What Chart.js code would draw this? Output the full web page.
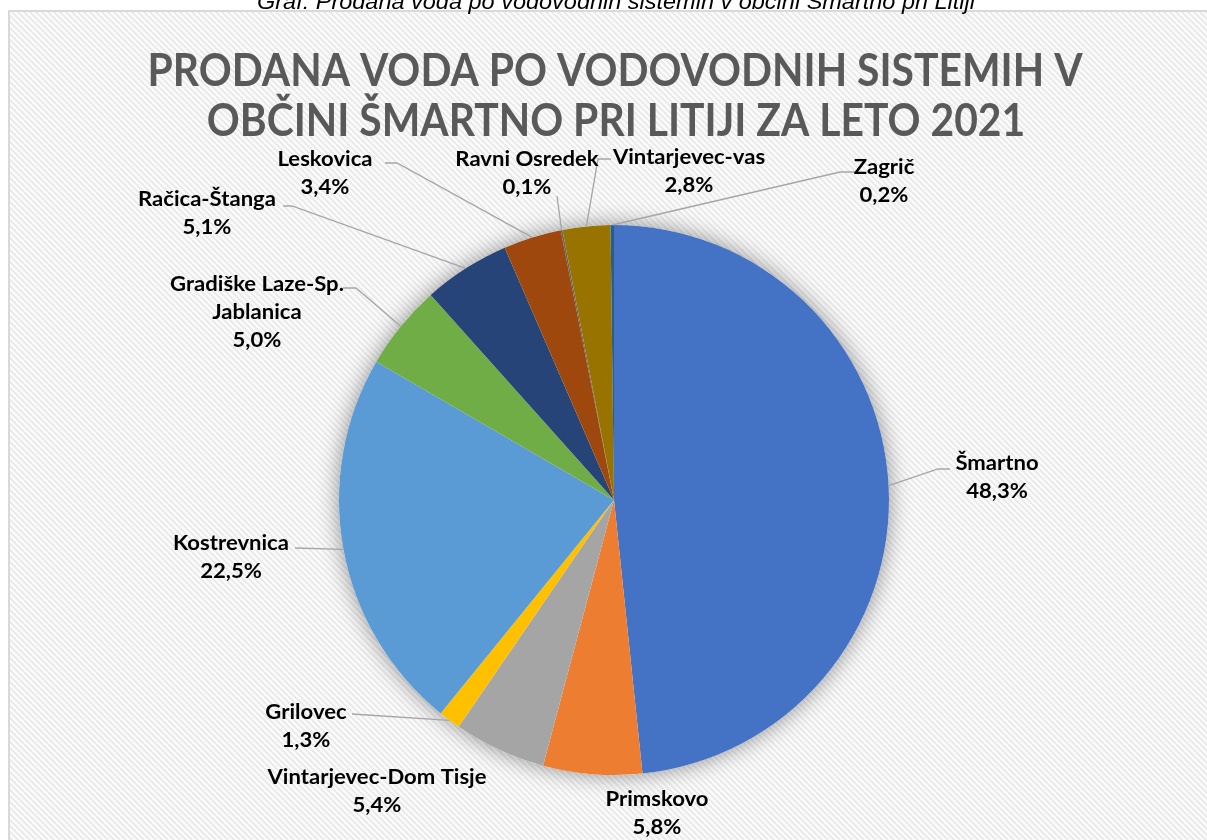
<!DOCTYPE html>
<html>
<head>
<meta charset="utf-8">
<script src="https://cdn.jsdelivr.net/npm/chart.js@4.4.1/dist/chart.umd.min.js"></script>
<style>
  html, body { margin: 0; padding: 0; background: #fff; overflow: hidden; }
  canvas { display: block; }
</style>
</head>
<body>
<canvas id="pieChart" width="1207" height="840" style="width:1207px;height:840px"></canvas>
<script>
const captionText = "Graf: Prodana voda po vodovodnih sistemih v občini Šmartno pri Litiji";
const titleLines = ["PRODANA VODA PO VODOVODNIH SISTEMIH V", "OBČINI ŠMARTNO PRI LITIJI ZA LETO 2021"];

const categories = [
  "Šmartno", "Primskovo", "Vintarjevec-Dom Tisje", "Grilovec", "Kostrevnica",
  "Gradiške Laze-Sp. Jablanica", "Račica-Štanga", "Leskovica", "Ravni Osredek",
  "Vintarjevec-vas", "Zagrič"
];
const shares = [48.3, 5.8, 5.4, 1.3, 22.5, 5.0, 5.1, 3.4, 0.1, 2.8, 0.2];
const sliceColors = [
  "#4472C4", "#ED7D31", "#A5A5A5", "#FFC000", "#5B9BD5",
  "#70AD47", "#264478", "#9E480E", "#636363", "#997300", "#255E91"
];

// where each data label sits, and the bends of its leader line (label side first)
const labelLayout = [
  { x: 997, y: 463, leader: [[950, 469], [938, 469]] },
  { x: 657, y: 799 },
  { x: 377, y: 777 },
  { x: 306, y: 712, leader: [[352, 714]] },
  { x: 231, y: 543, leader: [[295, 548]] },
  { x: 257, y: 284, lines: ["Gradiške Laze-Sp.", "Jablanica"], leader: [[343, 288], [356, 288]] },
  { x: 207, y: 199, leader: [[283, 206], [292, 206]] },
  { x: 325, y: 159, leader: [[385, 163], [397, 163]] },
  { x: 527, y: 159, leader: [[557, 196]] },
  { x: 689, y: 157, leader: [[611, 159], [598, 159]] },
  { x: 884, y: 167, leader: [[855, 172], [840, 172]] }
];

const total = shares.reduce((a, b) => a + b, 0);
const pct = v => (v / total * 100).toFixed(1).replace(".", ",") + "%";

function hatchPattern(ctx) {
  const c = document.createElement("canvas");
  c.width = 6; c.height = 6;
  const g = c.getContext("2d");
  g.fillStyle = "#fcfcfc";
  g.fillRect(0, 0, 6, 6);
  g.strokeStyle = "#eaeaea";
  g.lineWidth = 2;
  g.beginPath();
  g.moveTo(-1, -1); g.lineTo(7, 7);
  g.moveTo(-4, 2); g.lineTo(4, 10);
  g.moveTo(2, -4); g.lineTo(10, 4);
  g.stroke();
  return ctx.createPattern(c, "repeat");
}

function fittedText(ctx, text, cx, y, sx) {
  ctx.save();
  ctx.translate(cx, y);
  ctx.scale(sx, 1);
  ctx.fillText(text, 0, 0);
  ctx.restore();
}

const framePlugin = {
  id: "frame",
  beforeDraw(chart) {
    const c = chart.ctx;
    c.save();
    c.fillStyle = "#ffffff";
    c.fillRect(0, 0, chart.width, chart.height);
    c.fillStyle = hatchPattern(c);
    c.fillRect(9, 12, chart.width, chart.height);
    c.strokeStyle = "#d9d9d9";
    c.lineWidth = 2;
    c.beginPath();
    c.moveTo(9, chart.height + 5);
    c.lineTo(9, 11);
    c.lineTo(chart.width + 5, 11);
    c.stroke();

    // caption above the frame (cut off at the top)
    c.fillStyle = "#000";
    c.textAlign = "center";
    c.textBaseline = "alphabetic";
    c.font = "italic 22px 'Liberation Sans Narrow', 'Liberation Sans', sans-serif";
    fittedText(c, captionText, 616, 9, 718 / c.measureText(captionText).width);

    // title
    c.fillStyle = "#595959";
    c.font = "bold 46px Lato, 'Open Sans', sans-serif";
    const sx = 935 / c.measureText(titleLines[0]).width;
    fittedText(c, titleLines[0], 615, 86, sx);
    fittedText(c, titleLines[1], 616, 136, sx);
    c.restore();
  }
};

const shadowPlugin = {
  id: "pieShadow",
  beforeDatasetsDraw(chart) {
    const arc = chart.getDatasetMeta(0).data[0];
    if (!arc) return;
    const c = chart.ctx;
    c.save();
    c.shadowColor = "rgba(0,0,0,0.42)";
    c.shadowBlur = 22;
    c.fillStyle = "#ffffff";
    c.beginPath();
    c.arc(arc.x, arc.y, arc.outerRadius, 0, Math.PI * 2);
    c.fill();
    c.restore();
  }
};

const labelPlugin = {
  id: "sliceLabels",
  afterDatasetsDraw(chart) {
    const c = chart.ctx;
    const arcs = chart.getDatasetMeta(0).data;
    c.save();
    c.font = "bold 21px Lato, 'Open Sans', sans-serif";
    const sx = 219 / c.measureText("Vintarjevec-Dom Tisje").width;

    arcs.forEach((arc, i) => {
      const lay = labelLayout[i];
      if (!lay.leader) return;
      const mid = (arc.startAngle + arc.endAngle) / 2;
      const ex = arc.x + Math.cos(mid) * arc.outerRadius;
      const ey = arc.y + Math.sin(mid) * arc.outerRadius;
      c.strokeStyle = "#a6a6a6";
      c.lineWidth = 1.3;
      c.beginPath();
      lay.leader.forEach((p, k) => k ? c.lineTo(p[0], p[1]) : c.moveTo(p[0], p[1]));
      c.lineTo(ex, ey);
      c.stroke();
    });

    c.fillStyle = "#000";
    c.textAlign = "center";
    c.textBaseline = "middle";
    arcs.forEach((arc, i) => {
      const lay = labelLayout[i];
      const lines = (lay.lines || [categories[i]]).concat([pct(shares[i])]);
      lines.forEach((t, k) => fittedText(c, t, lay.x, lay.y + k * 28, sx));
    });
    c.restore();
  }
};

new Chart(document.getElementById("pieChart"), {
  type: "pie",
  data: {
    labels: categories,
    datasets: [{
      data: shares,
      backgroundColor: sliceColors,
      borderWidth: 0,
      hoverOffset: 0
    }]
  },
  options: {
    responsive: false,
    animation: false,
    events: [],
    layout: { padding: { left: 339, right: 318, top: 225, bottom: 65 } },
    plugins: {
      legend: { display: false },
      tooltip: { enabled: false },
      title: { display: false }
    }
  },
  plugins: [framePlugin, shadowPlugin, labelPlugin]
});
</script>
</body>
</html>
